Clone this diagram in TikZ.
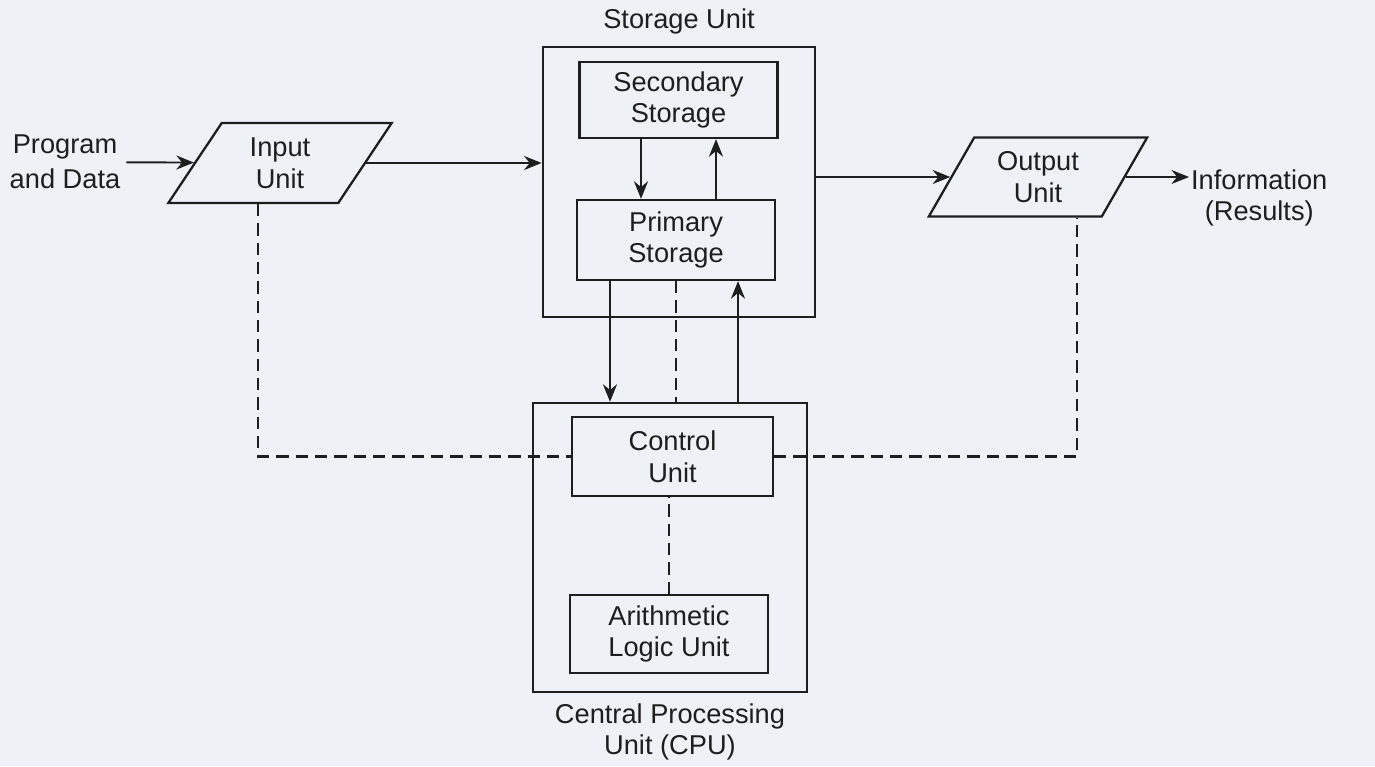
\documentclass[tikz,border=0pt]{standalone}
\usepackage{fontspec}
\setmainfont{Liberation Sans}
\usetikzlibrary{positioning,calc,shapes.geometric,arrows.meta}
\definecolor{paper}{HTML}{EEF2F6}
\definecolor{ink}{HTML}{1E1E1E}

\begin{document}
\begin{tikzpicture}[font=\fontsize{15.5}{18}\selectfont, ink,
  unit/.style={draw,line width=1.3pt,align=center,minimum width=3.96cm,minimum height=1.56cm},
  outer/.style={draw,line width=1.3pt,minimum width=5.45cm},
  io/.style={draw,line width=1.3pt,align=center,trapezium,trapezium left angle=62,
    trapezium right angle=118,trapezium stretches=true,minimum width=4.5cm,minimum height=1.6cm},
  arr/.style={line width=1.1pt,-{Stealth[length=10pt,width=8pt]}},
  dashline/.style={line width=1.4pt,dash pattern=on 7pt off 4pt}]
  \fill[paper] (0,0) rectangle (27.5,15.32);
  \useasboundingbox (0,0) rectangle (27.5,15.32);
  % storage side
  \node[outer,minimum height=5.4cm] (storage) at (13.58,11.68) {};
  \node[above=0.1cm of storage] (stlabel) {Storage Unit};
  \node[unit,minimum height=1.52cm] (secondary) at (13.57,13.32) {Secondary\\Storage};
  \node[unit,minimum height=1.6cm] (primary) at (13.52,10.52) {Primary\\Storage};
  % cpu side
  \node[outer,minimum width=5.48cm,minimum height=5.78cm] (cpu) at (13.4,4.37) {};
  \node[below=0.08cm of cpu,align=center] (cpulabel) {Central Processing\\Unit (CPU)};
  \node[unit,minimum width=4.02cm,minimum height=1.58cm] (control) at (13.45,6.19) {Control\\Unit};
  \node[unit] (alu) at (13.38,2.64) {Arithmetic\\Logic Unit};
  % input and output
  \node[align=center,font=\fontsize{15.5}{20}\selectfont] (prog) at (1.3,12.08) {Program\\and Data};
  \node[io] (input) at (5.6,12.06) {Input\\Unit};
  \node[io,minimum width=4.4cm,minimum height=1.58cm] (output) at (20.76,11.78) {Output\\Unit};
  \node[align=center,anchor=west,inner sep=1pt] (info) at (23.78,11.36) {Information\\(Results)};

  \draw[arr] (prog) -- (input);
  \draw[arr] (input.east) -- (storage.west |- input.east);
  \draw[arr] (storage.east |- output.west) -- (output.west);
  \draw[arr] (output.east) -- (info.west |- output.east);

  \draw[arr] ([xshift=-0.75cm]secondary.south) -- ([xshift=-0.75cm]secondary.south |- primary.north);
  \draw[arr] ([xshift=0.75cm]secondary.south |- primary.north) -- ([xshift=0.75cm]secondary.south);

  \draw[arr] ([xshift=-1.32cm]primary.south) -- ([xshift=-1.32cm]primary.south |- cpu.north);
  \draw[dashline] (primary.south) -- (primary.south |- cpu.north);
  \draw[arr] ([xshift=1.24cm]primary.south |- cpu.north) -- ([xshift=1.24cm]primary.south);

  \draw[dashline] (alu.north) -- (alu.north |- control.south);
  \draw[dashline] ([xshift=-0.44cm]input.south) |- (control.west);
  \draw[dashline] (control.east) -| ([xshift=0.78cm]output.south);
\end{tikzpicture}
\end{document}
